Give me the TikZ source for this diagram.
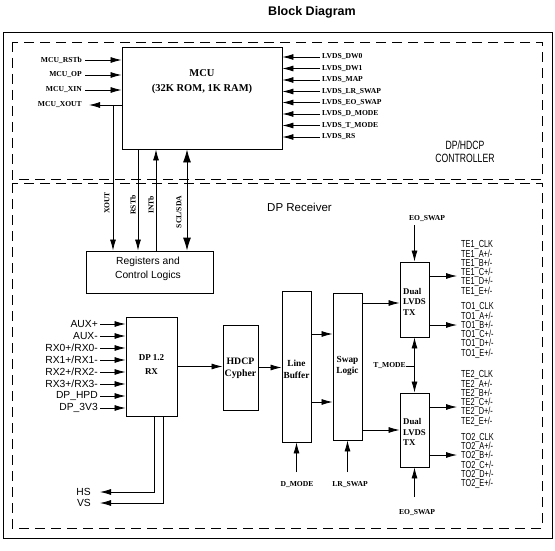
\documentclass[tikz,border=0pt]{standalone}
\usepackage{fontspec}
\setmainfont{Liberation Serif}
\newfontfamily\sansf{Liberation Sans}
\newfontfamily\tcondf[FakeStretch=0.72]{Liberation Sans}
\usetikzlibrary{arrows.meta}
\begin{document}
\begin{tikzpicture}[x=1pt,y=-1pt,
  box/.style={draw, line width=0.9pt, inner sep=0pt},
  arr/.style={line width=0.8pt, -{Latex[length=11pt,width=6pt]}},
  dbl/.style={line width=0.9pt, {Latex[length=13pt,width=8pt]}-{Latex[length=13pt,width=8pt]}},
  ln/.style={line width=0.8pt},
  dsh/.style={line width=0.8pt, dash pattern=on 10pt off 6pt},
  sl/.style={font=\bfseries\fontsize{7.6}{9}\selectfont, inner sep=0pt},
  bl/.style={font=\bfseries\fontsize{9.3}{11.5}\selectfont, inner sep=0pt, align=center},
  ss/.style={font=\sansf\fontsize{10.3}{12}\selectfont, inner sep=0pt},
  tl/.style={font={\tcondf\fontsize{10.2}{9.3}\selectfont\lineskiplimit=-20pt}, inner sep=0pt, align=left, anchor=west}
]
\useasboundingbox (0,0) rectangle (555,551);
\node[font=\sansf\bfseries\fontsize{12.5}{14}\selectfont, inner sep=0pt] (title) at (312,12) {Block Diagram};
\draw[line width=0.9pt] (3,32) rectangle (552,538);
\draw[dsh] (12,42) rectangle (542,179);
\draw[dsh] (12,183) rectangle (542,528);

% MCU
\node[box, minimum width=160pt, minimum height=102pt] (mcu) at (202,98) {};
\node[font=\bfseries\fontsize{10.5}{15}\selectfont, align=center, inner sep=0pt] (mcut) at (202,81.5) {MCU\\(32K ROM, 1K RAM)};

\node[sl, anchor=east] (mrst) at (82,60) {MCU\_RSTb};
\node[sl, anchor=east] (mop) at (82,75) {MCU\_OP};
\node[sl, anchor=east] (mxin) at (82,90) {MCU\_XIN};
\node[sl, anchor=east] (mxo) at (82,105) {MCU\_XOUT};
\foreach \n in {mrst,mop,mxin}
  \draw[arr] ([xshift=3pt]\n.east) -- (\n.east -| mcu.west);
\draw[arr] (mxo.east -| mcu.west) -- ([xshift=7pt]mxo.east);

\foreach \n/\t/\y in {lv1/LVDS\_DW0/57, lv2/LVDS\_DW1/68.5, lv3/LVDS\_MAP/80, lv4/LVDS\_LR\_SWAP/91.5, lv5/LVDS\_EO\_SWAP/102.5, lv6/LVDS\_D\_MODE/114, lv7/LVDS\_T\_MODE/125.5, lv8/LVDS\_RS/137}{
  \node[sl, anchor=west] (\n) at (322,\y) {\t};
  \draw[arr] ([xshift=-2pt]\n.west) -- (\n.west -| mcu.east);
}

\node[font=\tcondf\fontsize{12}{13}\selectfont, align=center, inner sep=0pt] (ctl) at (465,151.5) {DP/HDCP\\CONTROLLER};

% Registers
\node[box, minimum width=127pt, minimum height=42pt] (reg) at (149.5,272) {};
\node[ss, align=center, font=\sansf\fontsize{10.3}{14}\selectfont] (regt) at (148,269) {Registers and\\Control Logics};

\coordinate (vx) at (113,0);
\coordinate (vr) at (138,0);
\coordinate (vi) at (156,0);
\coordinate (vs) at (187,0);
\draw[arr] (vx |- mxo.east) -- (vx |- reg.north);
\draw[arr] (vr |- mcu.south) -- (vr |- reg.north);
\draw[arr] (vi |- reg.north) -- (vi |- mcu.south);
\draw[dbl] (vs |- reg.north) -- (vs |- mcu.south);
\node[sl, rotate=90] (lxo) at (107,203) {XOUT};
\node[sl, rotate=90] (lrs) at (133,205) {RSTb};
\node[sl, rotate=90] (lin) at (151,205) {INTb};
\node[sl, rotate=90] (lsc) at (179,212) {SCL/SDA};

\node[font=\sansf\fontsize{11.5}{13}\selectfont, anchor=west, inner sep=0pt] (dpr) at (267,207) {DP Receiver};

% DP RX
\node[box, minimum width=51pt, minimum height=99pt] (rx) at (151.5,366.5) {};
\node[bl, font=\bfseries\fontsize{9}{14}\selectfont] (rxt) at (151.5,365) {DP 1.2\\RX};
\foreach \n/\t/\y in {a1/AUX+/324, a2/AUX-/336, r0/RX0+\slash RX0-/348, r1/RX1+\slash RX1-/360, r2/RX2+\slash RX2-/372, r3/RX3+\slash RX3-/384, hp/DP\_HPD/396, v3/DP\_3V3/408}{
  \node[ss, anchor=east] (\n) at (98,\y) {\t};
  \draw[arr] ([xshift=2pt]\n.east) -- (\n.east -| rx.west);
}
\node[ss, anchor=east] (hs) at (91,492) {HS};
\node[ss, anchor=east] (vsn) at (91,503) {VS};
\coordinate (hsx) at (154,0);
\coordinate (vsx) at (163,0);
\draw[arr] (hsx |- rx.south) |- ([xshift=9pt]hs.east);
\draw[arr] (vsx |- rx.south) |- ([xshift=9pt]vsn.east);

% HDCP
\node[box, minimum width=35pt, minimum height=85pt] (hdcp) at (240.5,367.5) {};
\node[bl, font=\bfseries\fontsize{9.8}{12}\selectfont] (hdcpt) at (240.5,368) {HDCP\\Cypher};
% Line buffer
\node[box, minimum width=29pt, minimum height=151pt] (lb) at (296.5,366.5) {};
\node[bl, font=\bfseries\fontsize{9.3}{12}\selectfont] (lbt) at (296.5,369) {Line\\Buffer};
% Swap logic
\node[box, minimum width=29pt, minimum height=147pt] (swp) at (347.5,366.5) {};
\node[bl, font=\bfseries\fontsize{9.3}{11}\selectfont] (swpt) at (347.5,365.5) {Swap\\Logic};
% TX
\node[box, minimum width=29pt, minimum height=75pt] (tx1) at (414.5,299.5) {};
\node[bl, font=\bfseries\fontsize{8.8}{10.5}\selectfont, align=left, anchor=west] (tx1t) at (403,301.5) {Dual\\LVDS\\TX};
\node[box, minimum width=29pt, minimum height=74pt] (tx2) at (414.5,430) {};
\node[bl, font=\bfseries\fontsize{8.8}{10.5}\selectfont, align=left, anchor=west] (tx2t) at (403,432) {Dual\\LVDS\\TX};

\draw[arr] (rx.east) -- (rx.east -| hdcp.west);
\draw[arr] (hdcp.east) -- (hdcp.east -| lb.west);
\coordinate (y1) at (0,334);
\coordinate (y2) at (0,402);
\coordinate (y3) at (0,303);
\coordinate (y4) at (0,430);
\draw[arr] (lb.east |- y1) -- (swp.west |- y1);
\draw[arr] (lb.east |- y2) -- (swp.west |- y2);
\draw[arr] (swp.east |- y3) -- (tx1.west |- y3);
\draw[arr] (swp.east |- y4) -- (tx2.west |- y4);

\coordinate (o1) at (457,276);
\coordinate (o2) at (457,325);
\coordinate (o3) at (457,407);
\coordinate (o4) at (457,455);
\draw[arr] (tx1.east |- o1) -- (o1);
\draw[arr] (tx1.east |- o2) -- (o2);
\draw[arr] (tx2.east |- o3) -- (o3);
\draw[arr] (tx2.east |- o4) -- (o4);

\node[sl] (eo1) at (427,219) {EO\_SWAP};
\coordinate (eot) at (414.5,225);
\draw[arr] (eot) -- (tx1.north);
\node[sl] (eo2) at (417,513) {EO\_SWAP};
\coordinate (eob) at (414.5,497);
\draw[arr] (eob) -- (tx2.south);
\node[sl, anchor=east] (tm) at (406,366) {T\_MODE};
\coordinate (tmj) at (414.5,366);
\draw[ln] (tm.east) -- (tmj);
\draw[arr] (tmj) -- (tx1.south);
\draw[arr] (tmj) -- (tx2.north);
\node[sl] (dm) at (297,485) {D\_MODE};
\coordinate (dmb) at (296.5,472);
\draw[arr] (dmb) -- (lb.south);
\node[sl] (lr) at (350,485) {LR\_SWAP};
\coordinate (lrb) at (347.5,472);
\draw[arr] (lrb) -- (swp.south);

\node[tl] (te1) at (461,268.5) {TE1\_CLK\\TE1\_A+/-\\TE1\_B+/-\\TE1\_C+/-\\TE1\_D+/-\\TE1\_E+/-};
\node[tl] (to1) at (461,330.5) {TO1\_CLK\\TO1\_A+/-\\TO1\_B+/-\\TO1\_C+/-\\TO1\_D+/-\\TO1\_E+/-};
\node[tl] (te2) at (461,398.5) {TE2\_CLK\\TE2\_A+/-\\TE2\_B+/-\\TE2\_C+/-\\TE2\_D+/-\\TE2\_E+/-};
\node[tl] (to2) at (461,461) {TO2\_CLK\\TO2\_A+/-\\TO2\_B+/-\\TO2\_C+/-\\TO2\_D+/-\\TO2\_E+/-};
\end{tikzpicture}
\end{document}
